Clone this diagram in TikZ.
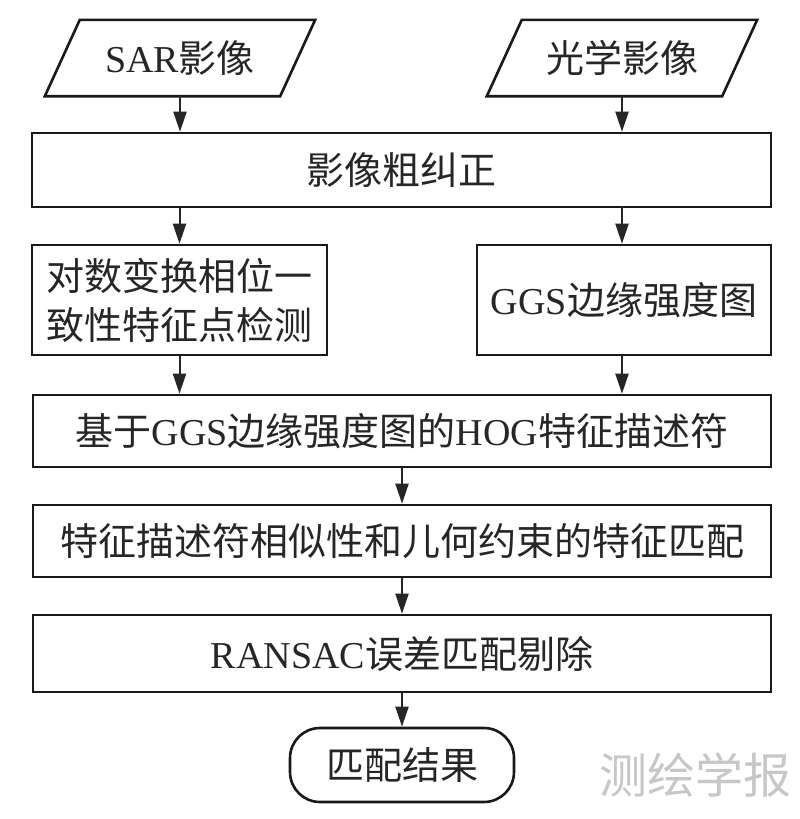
\documentclass[tikz,border=0pt]{standalone}
\usepackage{fontspec}
\setmainfont{Liberation Serif}
\newfontfamily\cjk{Noto Sans CJK SC}
\usetikzlibrary{arrows.meta,calc}
\begin{document}
\begin{tikzpicture}[x=1pt,y=-1pt,
  box/.style={draw=black!90,line width=2.6pt,rectangle,inner sep=0pt,
    font=\fontsize{38}{49}\selectfont,text=black!85},
  ghost/.style={rectangle,inner sep=0pt,font=\fontsize{38}{49}\selectfont,text=black!85},
  arr/.style={line width=2pt,draw=black!85,-{Stealth[length=20pt,width=13pt,inset=0pt]}},
  outl/.style={line width=2.6pt,draw=black!90,line join=miter}]
\useasboundingbox (0,0) rectangle (800,819);
\fill[white] (0,0) rectangle (800,819);

% input parallelograms
\node[ghost,minimum width=235pt,minimum height=76pt] (sar) at (180,58) {SAR{\cjk 影像}};
\draw[outl] ($(sar.north west)+(17.5,0)$) -- ($(sar.north east)+(17.5,0)$) -- ($(sar.south east)+(-17.5,0)$) -- ($(sar.south west)+(-17.5,0)$) -- cycle;
\node[ghost,minimum width=235pt,minimum height=76pt] (opt) at (622,58) {\cjk 光学影像};
\draw[outl] ($(opt.north west)+(17.5,0)$) -- ($(opt.north east)+(17.5,0)$) -- ($(opt.south east)+(-17.5,0)$) -- ($(opt.south west)+(-17.5,0)$) -- cycle;

\node[box,minimum width=739pt,minimum height=74pt] (coarse) at (401.5,170) {\cjk 影像粗纠正};
\node[box,minimum width=295pt,minimum height=110pt,align=left] (pc) at (179.5,300) {\cjk 对数变换相位一\\\cjk 致性特征点检测};
\node[box,minimum width=294pt,minimum height=110pt] (ggs) at (624,300) {GGS{\cjk 边缘强度图}};
\node[box,minimum width=738pt,minimum height=72pt] (hog) at (402,431) {{\cjk 基于}GGS{\cjk 边缘强度图的}HOG{\cjk 特征描述符}};
\node[box,minimum width=738pt,minimum height=72pt] (match) at (402,541) {\cjk 特征描述符相似性和儿何约束的特征匹配};
\node[box,minimum width=738pt,minimum height=77pt] (ransac) at (402,653.5) {RANSAC{\cjk 误差匹配剔除}};
\node[box,minimum width=224pt,minimum height=74pt,rounded corners=30pt] (res) at (402,765) {\cjk 匹配结果};

\node[text=black!22,font=\cjk\fontsize{48}{52}\selectfont] (wm) at (695,775) {测绘学报};

\draw[arr] (sar.south) -- (sar.south |- coarse.north);
\draw[arr] (opt.south) -- (opt.south |- coarse.north);
\draw[arr] (pc.north |- coarse.south) -- (pc.north);
\draw[arr] (ggs.north -| opt.south) ++(0,-38) -- (ggs.north -| opt.south);
\draw[arr] (pc.south) -- (pc.south |- hog.north);
\draw[arr] (ggs.south -| opt.south) -- (hog.north -| opt.south);
\draw[arr] (hog.south) -- (match.north);
\draw[arr] (match.south) -- (ransac.north);
\draw[arr] (ransac.south) -- (res.north);
\end{tikzpicture}
\end{document}
